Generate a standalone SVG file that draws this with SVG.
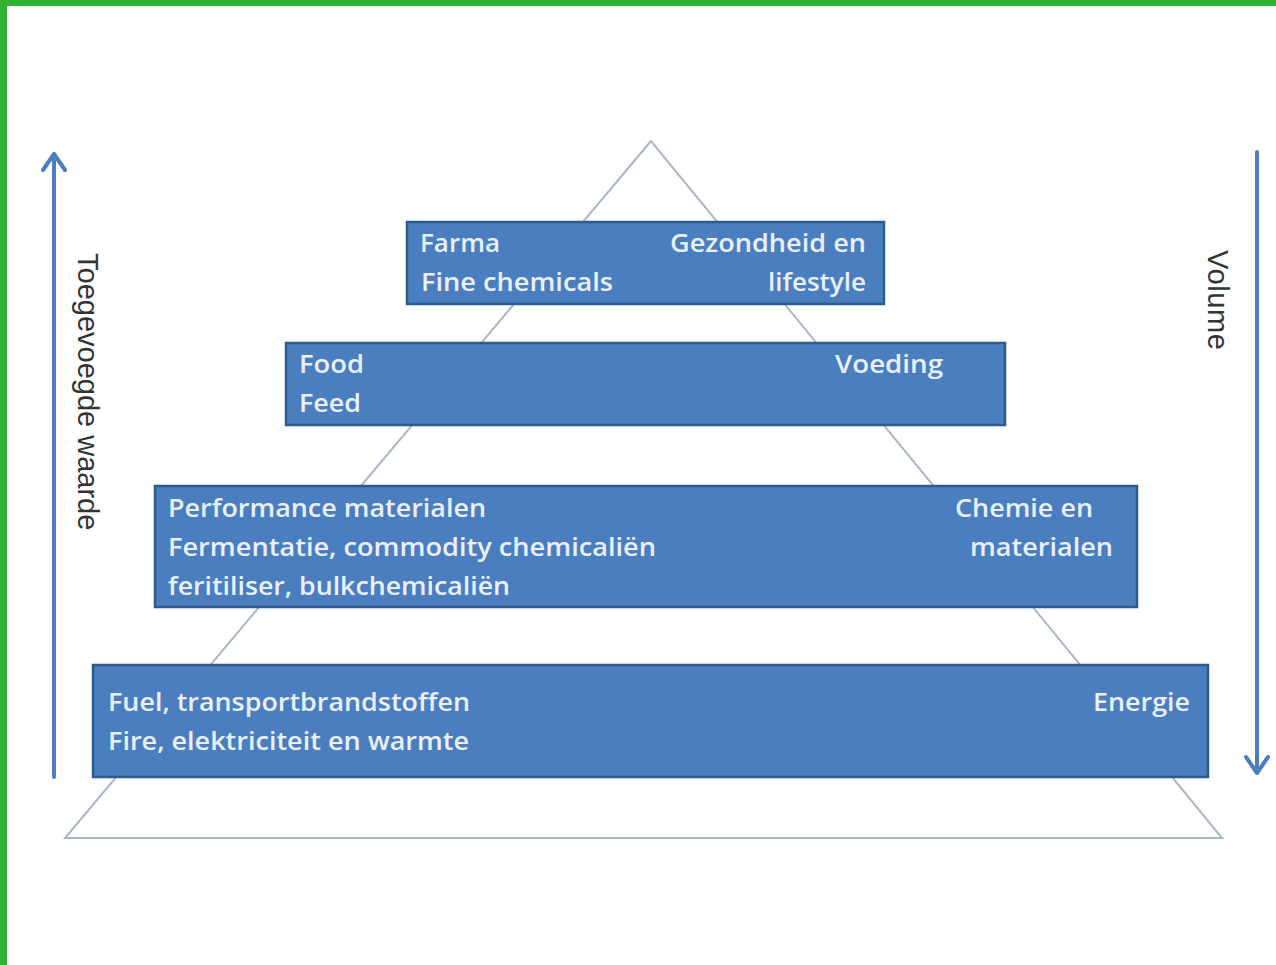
<svg xmlns="http://www.w3.org/2000/svg" width="1276" height="965" viewBox="0 0 1276 965">
<style>
.box{fill:#4a7ebf;stroke:#2f5a8c;stroke-width:2.5}
.t{font-family:"Open Sans",Lato,sans-serif;font-size:26px;font-weight:600;fill:#e9f0f9}
.e{text-anchor:end}
.side{font-family:"Liberation Sans",Arial,sans-serif;font-size:29px;fill:#333}
.arr{stroke:#4a7ebf;stroke-width:4;fill:none;stroke-linecap:round;stroke-linejoin:round}
</style>
<rect width="1276" height="965" fill="#fff"/>
<rect x="0" y="0" width="1276" height="6" fill="#32b034"/>
<rect x="0" y="0" width="7" height="965" fill="#32b034"/>
<g id="pyramid">
<polygon points="651,141 65,838 1222,838" fill="none" stroke="#a9b6c9" stroke-width="2"/>
</g>
<g id="connectors">
<path class="arr" d="M54,777 V154 M43,170 L54,154 L65,170"/>
<path class="arr" d="M1257,152 V773 M1246,757 L1257,773 L1268,757"/>
</g>
<g id="tier1">
<rect class="box" x="407" y="222" width="477" height="82"/>
<text class="t" x="420" y="252" textLength="80" lengthAdjust="spacingAndGlyphs">Farma</text>
<text class="t" x="421" y="291" textLength="192" lengthAdjust="spacingAndGlyphs">Fine chemicals</text>
<text class="t" x="670" y="252" textLength="196" lengthAdjust="spacingAndGlyphs">Gezondheid en</text>
<text class="t" x="768" y="291" textLength="98" lengthAdjust="spacingAndGlyphs">lifestyle</text>
</g>
<g id="tier2">
<rect class="box" x="286" y="343" width="719" height="82"/>
<text class="t" x="299" y="373" textLength="65" lengthAdjust="spacingAndGlyphs">Food</text>
<text class="t" x="299" y="412" textLength="62" lengthAdjust="spacingAndGlyphs">Feed</text>
<text class="t" x="835" y="373" textLength="108" lengthAdjust="spacingAndGlyphs">Voeding</text>
</g>
<g id="tier3">
<rect class="box" x="155" y="486" width="982" height="121"/>
<text class="t" x="168" y="517" textLength="318" lengthAdjust="spacingAndGlyphs">Performance materialen</text>
<text class="t" x="168" y="556" textLength="488" lengthAdjust="spacingAndGlyphs">Fermentatie, commodity chemicaliën</text>
<text class="t" x="168" y="595" textLength="342" lengthAdjust="spacingAndGlyphs">feritiliser, bulkchemicaliën</text>
<text class="t" x="955" y="517" textLength="138" lengthAdjust="spacingAndGlyphs">Chemie en</text>
<text class="t" x="970" y="556" textLength="143" lengthAdjust="spacingAndGlyphs">materialen</text>
</g>
<g id="tier4">
<rect class="box" x="93" y="665" width="1115" height="112"/>
<text class="t" x="108" y="711" textLength="362" lengthAdjust="spacingAndGlyphs">Fuel, transportbrandstoffen</text>
<text class="t" x="108" y="750" textLength="361" lengthAdjust="spacingAndGlyphs">Fire, elektriciteit en warmte</text>
<text class="t" x="1093" y="711" textLength="97" lengthAdjust="spacingAndGlyphs">Energie</text>
</g>
<g id="label-left">
<text class="side" transform="translate(78,253) rotate(90)">Toegevoegde waarde</text>
</g>
<g id="label-right">
<text class="side" transform="translate(1208,250) rotate(90)" textLength="100">Volume</text>
</g>
</svg>
